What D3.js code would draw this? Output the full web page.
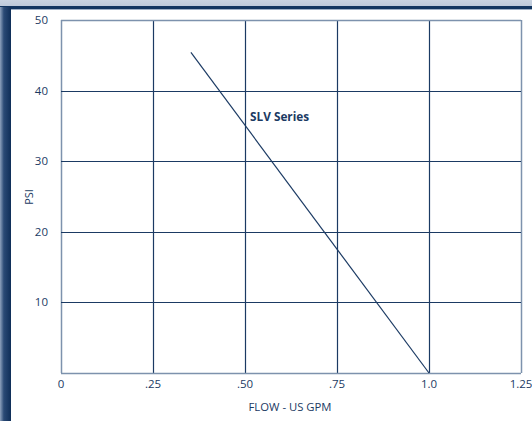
<!DOCTYPE html>
<html><head><meta charset="utf-8">
<script src="https://cdn.jsdelivr.net/npm/d3@7"></script>
<style>body{margin:0;background:#fff;} svg{display:block;}</style>
</head><body>
<svg id="c" width="532" height="421"></svg>
<script>
const xTicks = [0, 0.25, 0.5, 0.75, 1.0, 1.25];
const xTickLabels = ["0", ".25", ".50", ".75", "1.0", "1.25"];
const yTicks = [10, 20, 30, 40, 50];
const yTickLabels = ["10", "20", "30", "40", "50"];
const flow = [0.353, 1.0];
const psi = [45.4, 0];
const seriesName = "SLV Series";

const navy = "#1b3a63";
const svg = d3.select("#c");
const defs = svg.append("defs");
const gl = defs.append("linearGradient").attr("id","lg").attr("x1","0").attr("x2","1");
gl.append("stop").attr("offset","0").attr("stop-color","#8ea2bd");
gl.append("stop").attr("offset","0.35").attr("stop-color","#2a4a75");
gl.append("stop").attr("offset","1").attr("stop-color","#0f2e58");
const gt = defs.append("linearGradient").attr("id","tg").attr("x1","0").attr("x2","0").attr("y1","0").attr("y2","1");
gt.append("stop").attr("offset","0").attr("stop-color","#c9d3e1");
gt.append("stop").attr("offset","1").attr("stop-color","#bcc8d9");

svg.append("rect").attr("x",0).attr("y",0).attr("width",532).attr("height",7).attr("fill","url(#tg)");
svg.append("rect").attr("x",0).attr("y",6).attr("width",532).attr("height",3).attr("fill","#123560");
svg.append("rect").attr("x",0).attr("y",9).attr("width",532).attr("height",1).attr("fill","#9fb0c6");
svg.append("rect").attr("x",0).attr("y",7).attr("width",11).attr("height",414).attr("fill","url(#lg)");

const x = d3.scaleLinear().domain([0, 1.25]).range([61, 521]);
const y = d3.scaleLinear().domain([0, 50]).range([373, 20]);

const g = svg.append("g");
// grid
g.selectAll("line.v").data(xTicks).join("line")
  .attr("x1", d => Math.round(x(d)) + 0.5).attr("x2", d => Math.round(x(d)) + 0.5)
  .attr("y1", y(50)).attr("y2", y(0))
  .attr("stroke", (d,i) => (i===0||i===xTicks.length-1) ? "#7d92ad" : navy).attr("stroke-width", (d,i)=> (i===0||i===xTicks.length-1)?1.5:1.2);
g.selectAll("line.h").data([0].concat(yTicks)).join("line")
  .attr("x1", x(0)).attr("x2", x(1.25))
  .attr("y1", d => Math.round(y(d)) + 0.5).attr("y2", d => Math.round(y(d)) + 0.5)
  .attr("stroke", d => (d===0||d===50) ? "#7d92ad" : navy).attr("stroke-width", d => (d===0||d===50)?1.5:1.2);

// axes labels
const font = "'Open Sans', 'DejaVu Sans', sans-serif";
g.selectAll("text.yt").data(yTicks).join("text")
  .attr("x", 48).attr("y", d => y(d) + 4)
  .attr("text-anchor","end").attr("font-family", font).attr("font-size", 11.5)
  .attr("fill", navy).text((d,i) => yTickLabels[i]);
g.selectAll("text.xt").data(xTicks).join("text")
  .attr("x", d => x(d)).attr("y", 388)
  .attr("text-anchor","middle").attr("font-family", font).attr("font-size", 11.5)
  .attr("fill", navy).text((d,i) => xTickLabels[i]);

svg.append("text").attr("x", 290).attr("y", 411).attr("text-anchor","middle")
  .attr("font-family", font).attr("font-size", 11.3).attr("fill", navy).text("FLOW - US GPM");
svg.append("text").attr("transform","translate(33,197) rotate(-90)").attr("text-anchor","middle")
  .attr("font-family", font).attr("font-size", 11).attr("fill", navy).text("PSI");

// series line
const line = d3.line().x(d => x(d[0])).y(d => y(d[1]));
g.append("path").datum(flow.map((f,i)=>[f, psi[i]])).attr("d", line)
  .attr("fill","none").attr("stroke", navy).attr("stroke-width", 1.2);

svg.append("text").attr("x", 250).attr("y", 121)
  .attr("font-family", font).attr("font-size", 11.8).attr("font-weight","bold")
  .attr("fill", navy).text(seriesName);
</script>
</body></html>
